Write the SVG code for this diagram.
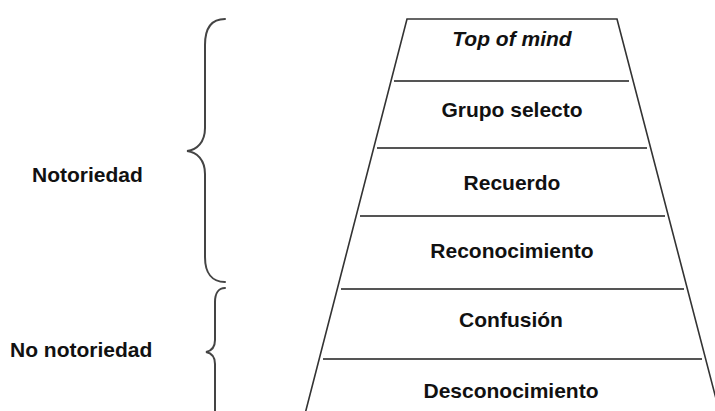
<svg xmlns="http://www.w3.org/2000/svg" width="715" height="411" viewBox="0 0 715 411">
  <style>
    .lbl { font-family: "Liberation Sans", Arial, sans-serif; font-size: 21px; font-weight: bold; fill: #111; }
    .mid { text-anchor: middle; }
    .edge { stroke: #333; stroke-width: 1.6; fill: none; }
    .div { stroke: #555; stroke-width: 2; fill: none; }
    .brace { stroke: #444; stroke-width: 2; fill: none; stroke-linecap: round; }
  </style>
  <rect width="715" height="411" fill="#fff"/>

  <!-- pyramid outline and level dividers -->
  <g id="pyramid">
    <polyline class="edge" points="305,414 407,19 617,19 720,414"/>
    <line class="div" x1="394" y1="81" x2="629" y2="81"/>
    <line class="div" x1="377" y1="148" x2="647" y2="148"/>
    <line class="div" x1="360" y1="216" x2="665" y2="216"/>
    <line class="div" x1="341" y1="289" x2="684" y2="289"/>
    <line class="div" x1="323" y1="359" x2="702" y2="359"/>
  </g>

  <!-- levels -->
  <g id="top-of-mind"><text class="lbl mid" x="512" y="46" font-style="italic">Top of mind</text></g>
  <g id="grupo-selecto"><text class="lbl mid" x="512" y="117">Grupo selecto</text></g>
  <g id="recuerdo"><text class="lbl mid" x="512" y="190">Recuerdo</text></g>
  <g id="reconocimiento"><text class="lbl mid" x="512" y="258">Reconocimiento</text></g>
  <g id="confusion"><text class="lbl mid" x="511" y="327">Confusión</text></g>
  <g id="desconocimiento"><text class="lbl mid" x="511" y="398">Desconocimiento</text></g>

  <!-- group labels -->
  <g id="notoriedad"><text class="lbl" x="32" y="182">Notoriedad</text></g>
  <g id="no-notoriedad"><text class="lbl" x="10" y="357">No notoriedad</text></g>

  <!-- braces -->
  <g id="connectors">
    <path class="brace" d="M225,19 C212,19 205,28 205,45 L205,128 C205,142 197,150 187,151 C197,152 205,160 205,174 L205,257 C205,273 212,282 225,282"/>
    <path class="brace" d="M225,288 C219,288 215,293 215,302 L215,340 C215,347 211,351 206,352 C211,353 215,357 215,364 L215,414"/>
  </g>
</svg>
